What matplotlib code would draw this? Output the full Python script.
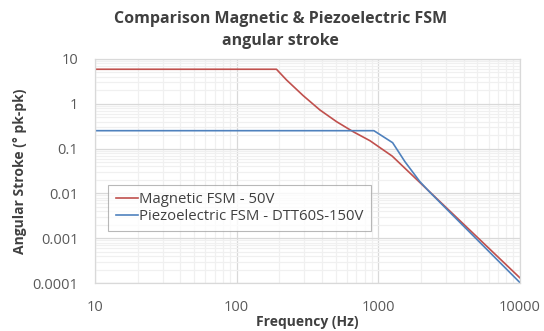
import matplotlib
matplotlib.use("Agg")
import matplotlib.pyplot as plt
from matplotlib.ticker import FixedLocator, LogLocator, NullFormatter

# data
mag_freq = [10, 191, 225, 295, 387, 508, 665, 873, 1253, 10000]
mag_stroke = [5.9, 5.9, 3.40, 1.52, 0.728, 0.398, 0.238, 0.150, 0.068, 1.3e-4]

piezo_freq = [10, 931, 1262, 1542, 1968, 2313, 10000]
piezo_stroke = [0.251, 0.251, 0.1355, 0.051, 0.0182, 0.0106, 1.02e-4]

x_ticks = [10, 100, 1000, 10000]
x_labels = ["10", "100", "1000", "10000"]
y_ticks = [0.0001, 0.001, 0.01, 0.1, 1, 10]
y_labels = ["0.0001", "0.001", "0.01", "0.1", "1", "10"]

plt.rcParams['font.family'] = ['Open Sans', 'DejaVu Sans']

fig = plt.figure(figsize=(5.44, 3.31), dpi=100)
ax = fig.add_axes([0.1746, 0.145, 0.7812, 0.6768])

ax.plot(mag_freq, mag_stroke, color='#C0504D', lw=1.2, label='Magnetic FSM - 50V')
ax.plot(piezo_freq, piezo_stroke, color='#4F81BD', lw=1.2, label='Piezoelectric FSM - DTT60S-150V')

ax.set_xscale('log')
ax.set_yscale('log')
ax.set_xlim(10, 10000)
ax.set_ylim(0.0001, 10)

ax.xaxis.set_major_locator(FixedLocator(x_ticks))
ax.set_xticklabels(x_labels)
ax.yaxis.set_major_locator(FixedLocator(y_ticks))
ax.set_yticklabels(y_labels)
ax.xaxis.set_minor_locator(LogLocator(base=10, subs=range(2, 10)))
ax.yaxis.set_minor_locator(LogLocator(base=10, subs=range(2, 10)))
ax.xaxis.set_minor_formatter(NullFormatter())
ax.yaxis.set_minor_formatter(NullFormatter())

ax.grid(which='major', color='#d9d9d9', lw=0.9)
ax.grid(which='minor', color='#f0f0f0', lw=0.9)
ax.set_axisbelow(True)
ax.tick_params(which='both', length=0, colors='#595959', labelsize=10.5)
ax.tick_params(axis='x', pad=12)
ax.tick_params(axis='y', pad=12)
for s in ax.spines.values():
    s.set_color('#d9d9d9')
    s.set_linewidth(0.9)

ax.set_xlabel('Frequency (Hz)', fontsize=10, fontweight='bold', color='#404040', labelpad=0)
ax.set_ylabel('Angular Stroke (° pk-pk)', fontsize=10, fontweight='bold', color='#404040', labelpad=4)
fig.suptitle('Comparison Magnetic & Piezoelectric FSM\nangular stroke', x=0.515, y=0.968,
             fontsize=11.5, fontweight='bold', color='#404040', linespacing=1.5)

leg = ax.legend(loc='upper left', bbox_to_anchor=(0.031, 0.4375), fontsize=10.7, frameon=True,
                fancybox=False, handlelength=1.5, handletextpad=0.1, borderpad=0.5,
                labelspacing=0.1, labelcolor='#404040', borderaxespad=0)
leg.get_frame().set_edgecolor('#a6a6a6')
leg.get_frame().set_linewidth(0.8)

fig.savefig('out.png', dpi=100)
